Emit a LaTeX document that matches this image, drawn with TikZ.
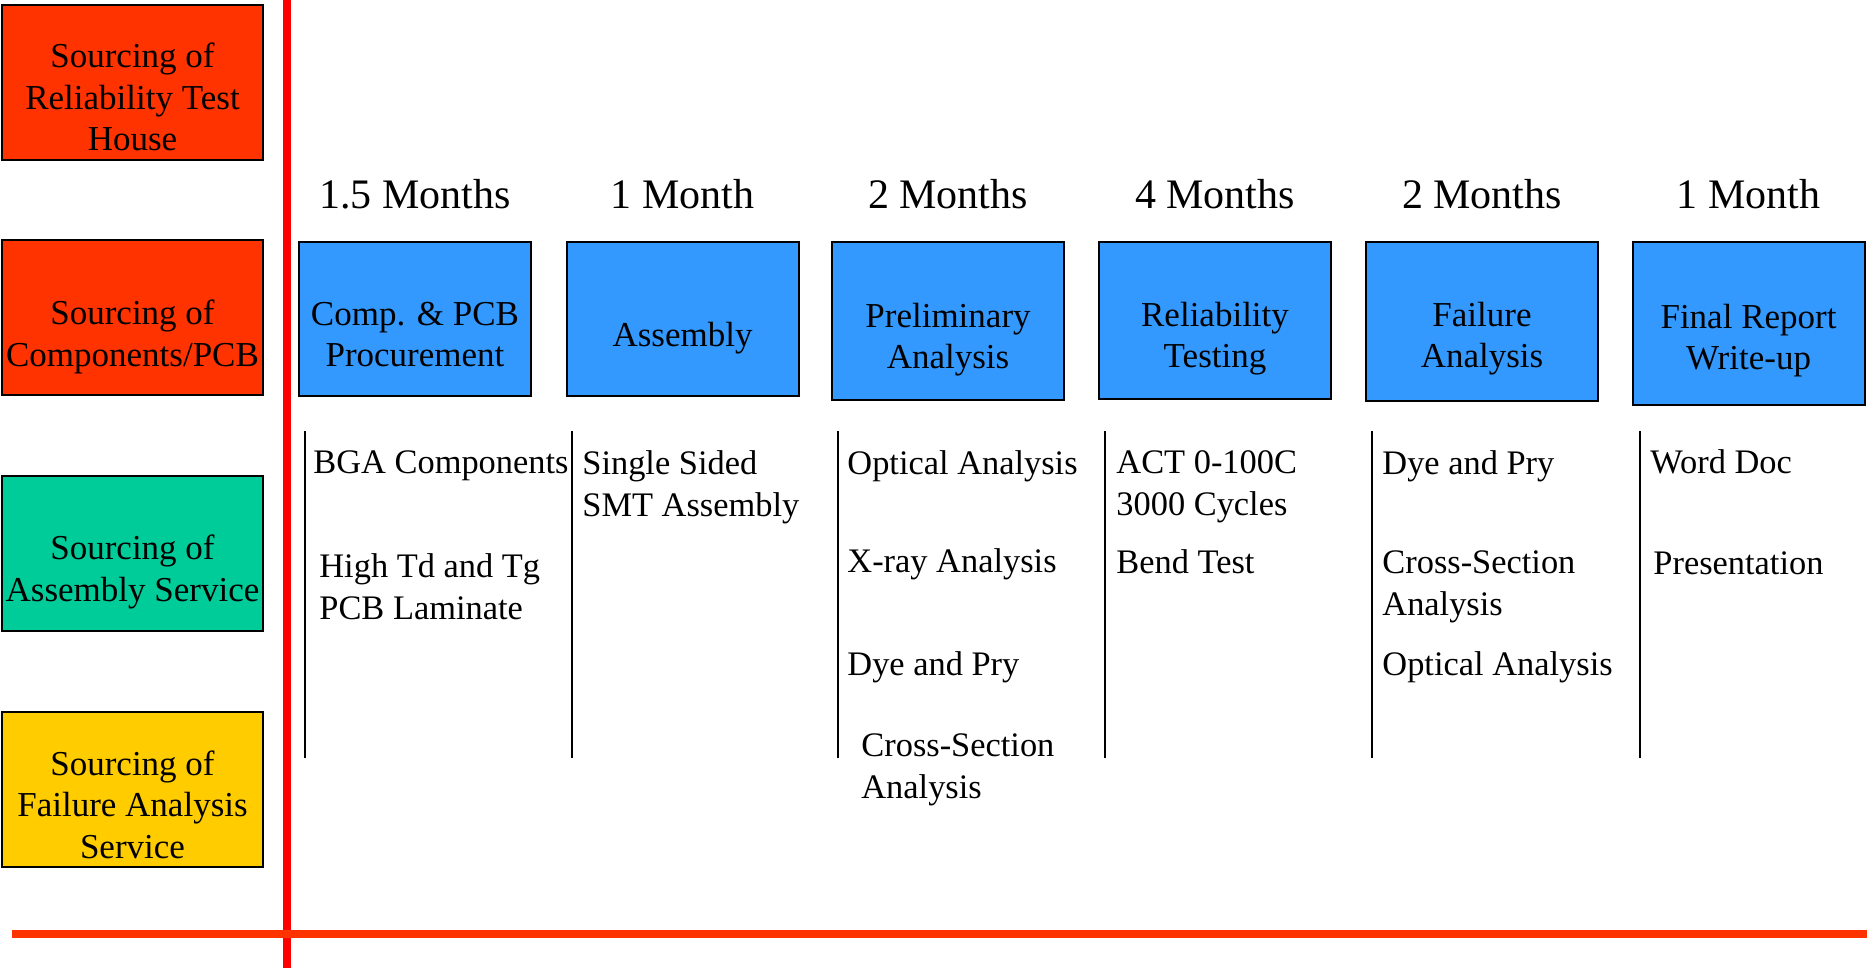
\documentclass[tikz,border=0pt]{standalone}
\usepackage{fontspec}
\setmainfont{Liberation Serif}
\definecolor{srcred}{HTML}{FF3300}
\definecolor{srcgreen}{HTML}{00CC99}
\definecolor{srcyellow}{HTML}{FFCC00}
\definecolor{phaseblue}{HTML}{3399FF}
\definecolor{axisred}{HTML}{FF0000}
\definecolor{baseorange}{HTML}{FF3300}
\tikzset{
  srcbox/.style={draw=black, line width=1pt, minimum width=130.5pt, minimum height=77.5pt, inner sep=0pt},
  srctext/.style={align=center, inner sep=0pt, font=\fontsize{17.5}{20.8}\selectfont},
  phasebox/.style={draw=black, line width=1pt, fill=phaseblue, minimum width=116pt, inner sep=0pt},
  phasetext/.style={align=center, inner sep=0pt, font=\fontsize{17.5}{20.8}\selectfont},
  monthlbl/.style={inner sep=0pt, font=\fontsize{21}{25}\selectfont},
  itemtext/.style={anchor=west, align=left, inner sep=0pt, font=\fontsize{17.2}{20.8}\selectfont},
  colline/.style={draw=black, line width=1pt},
}
\begin{document}
\begin{tikzpicture}[x=0.5pt, y=-0.5pt]
\useasboundingbox (0,0) rectangle (1867,970);
\fill[white] (0,0) rectangle (1867,970);

% left sourcing boxes
\node[srcbox, fill=srcred] (s1) at (132.5,82.5) {};
\node[srctext] (s1t) at (132.5,97) {Sourcing of\\Reliability Test\\House};
\node[srcbox, fill=srcred] (s2) at (132.5,317.5) {};
\node[srctext] (s2t) at (132.5,337) {Sourcing of\\Components/PCB};
\node[srcbox, fill=srcgreen] (s3) at (132.5,553.5) {};
\node[srctext] (s3t) at (132.5,572) {Sourcing of\\Assembly Service};
\node[srcbox, fill=srcyellow] (s4) at (132.5,789.5) {};
\node[srctext] (s4t) at (132.5,804.5) {Sourcing of\\Failure Analysis\\Service};

% axes
\coordinate (vtop) at (287,0);
\coordinate (vbot) at (287,968);
\coordinate (hl) at (12,934);
\coordinate (hr) at (1867,934);
\draw[axisred, line width=4pt] (vtop) -- (vbot);
\draw[baseorange, line width=3.8pt] (hl) -- (hr);

% month labels
\node[monthlbl] (m1) at (415,194) {1.5 Months};
\node[monthlbl] (m2) at (682.5,194) {1 Month};
\node[monthlbl] (m3) at (948,194) {2 Months};
\node[monthlbl] (m4) at (1215,194) {4 Months};
\node[monthlbl] (m5) at (1482,194) {2 Months};
\node[monthlbl] (m6) at (1748.5,194) {1 Month};

% phase boxes
\node[phasebox, minimum height=77pt] (p1) at (415,319) {};
\node[phasetext] (p1t) at (415,334.5) {Comp. \& PCB\\Procurement};
\node[phasebox, minimum height=77pt] (p2) at (682.5,319) {};
\node[phasetext] (p2t) at (682.5,338.5) {Assembly};
\node[phasebox, minimum height=79pt] (p3) at (948,321) {};
\node[phasetext] (p3t) at (948,339.5) {Preliminary\\Analysis};
\node[phasebox, minimum height=78.5pt] (p4) at (1215,320.5) {};
\node[phasetext] (p4t) at (1215,338.5) {Reliability\\Testing};
\node[phasebox, minimum height=79.5pt] (p5) at (1482,321.5) {};
\node[phasetext] (p5t) at (1482,338.5) {Failure\\Analysis};
\node[phasebox, minimum height=81.5pt] (p6) at (1748.5,323.5) {};
\node[phasetext] (p6t) at (1748.5,340.5) {Final Report\\Write-up};

% column lines
\foreach \i/\x in {1/305,2/572,3/838,4/1105,5/1372,6/1640}{
  \coordinate (c\i t) at (\x,431);
  \coordinate (c\i b) at (\x,758);
  \draw[colline] (c\i t) -- (c\i b);
}

% column items
\node[itemtext] (i11) at (313,466) {BGA Components};
\node[itemtext] (i12) at (319,587) {High Td and Tg\\PCB Laminate};
\node[itemtext] (i21) at (582,487) {Single Sided\\SMT Assembly};
\node[itemtext] (i31) at (847,466) {Optical Analysis};
\node[itemtext] (i32) at (847,564) {X-ray Analysis};
\node[itemtext] (i33) at (847,667) {Dye and Pry};
\node[itemtext] (i34) at (861,770) {Cross-Section\\Analysis};
\node[itemtext] (i41) at (1116,487) {ACT 0-100C\\3000 Cycles};
\node[itemtext] (i42) at (1116,562) {Bend Test};
\node[itemtext] (i51) at (1382,466) {Dye and Pry};
\node[itemtext] (i52) at (1382,587) {Cross-Section\\Analysis};
\node[itemtext] (i53) at (1382,667) {Optical Analysis};
\node[itemtext] (i61) at (1650,462) {Word Doc};
\node[itemtext] (i62) at (1653,563) {Presentation};
\end{tikzpicture}
\end{document}
